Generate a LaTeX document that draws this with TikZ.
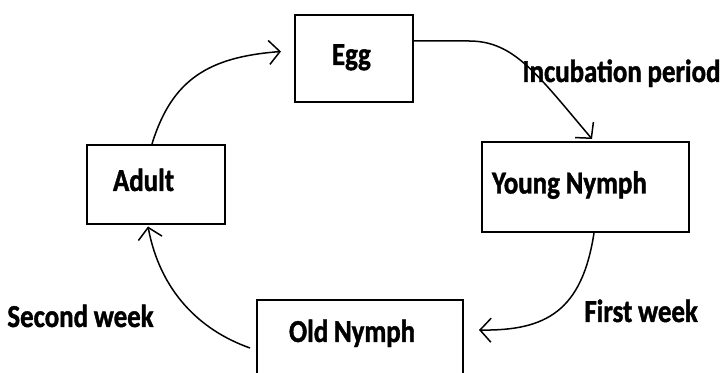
\documentclass[tikz,border=0pt]{standalone}
\usepackage{fontspec}
\setmainfont{Carlito}[FakeStretch=0.84, WordSpace=0.95, BoldFeatures={FakeBold=1.3}]
\usepackage{tikz}
\usetikzlibrary{arrows.meta,calc}
\newcommand{\stagefont}{\bfseries\fontsize{16}{18}\selectfont}
\tikzset{
  stagebox/.style={rectangle, draw, line width=1pt, align=left, font=\stagefont,
                   execute at begin node={\spaceskip=0pt\relax},
                   inner ysep=0pt, text height=10.5pt, text depth=4pt},
  note/.style={anchor=base west, inner sep=0pt, font=\stagefont},
  cycarrow/.style={-{Straight Barb[length=5.5pt, width=12pt, line width=0.75pt]},
                   line width=0.75pt},
}

\begin{document}
\begin{tikzpicture}[x=0.5pt, y=-0.5pt]
  \useasboundingbox (0,0) rectangle (723,373);
  \node[stagebox, text width=22pt, inner xsep=18.5pt, minimum height=43.5pt] (egg) at (354,58.5) {Egg};
  \node[stagebox, text width=93.5pt, inner xsep=5pt, minimum height=45pt] (young) at (585.5,187) {Young Nymph};
  \node[stagebox, text width=43pt, inner xsep=13pt, minimum height=39.5pt] (adult) at (156,184.5) {Adult};
  \node[stagebox, text width=71pt, inner xsep=16pt, minimum height=45pt, text depth=13.5pt] (old) at (360,345) {Old Nymph};
  \node[note] (incub) at (522,82) {Incubation period};
  \node[note] (first) at (584,322) {First week};
  \node[note] (second) at (7,327) {Second week};
  \draw[cycarrow] ($(adult.north)+(-4,0)$) .. controls +(20,-65) and +(-72,5.5) .. ($(egg.west)+(-13,-7)$);
  \draw[cycarrow] ($(egg.east)+(0,-17.5)$) -- +(55,0) .. controls +(45,0) and +(-55,-65) .. ($(young.north)+(6.5,-2)$);
  \draw[cycarrow] ($(young.south)+(8.5,0)$) .. controls +(-12,78) and +(67,1) .. ($(old.east)+(15,-15)$);
  \draw[cycarrow] ($(old.west)+(-6,3)$) .. controls +(-51,-18) and +(12,64) .. ($(adult.south)+(-8,1.5)$);
\end{tikzpicture}
\end{document}
